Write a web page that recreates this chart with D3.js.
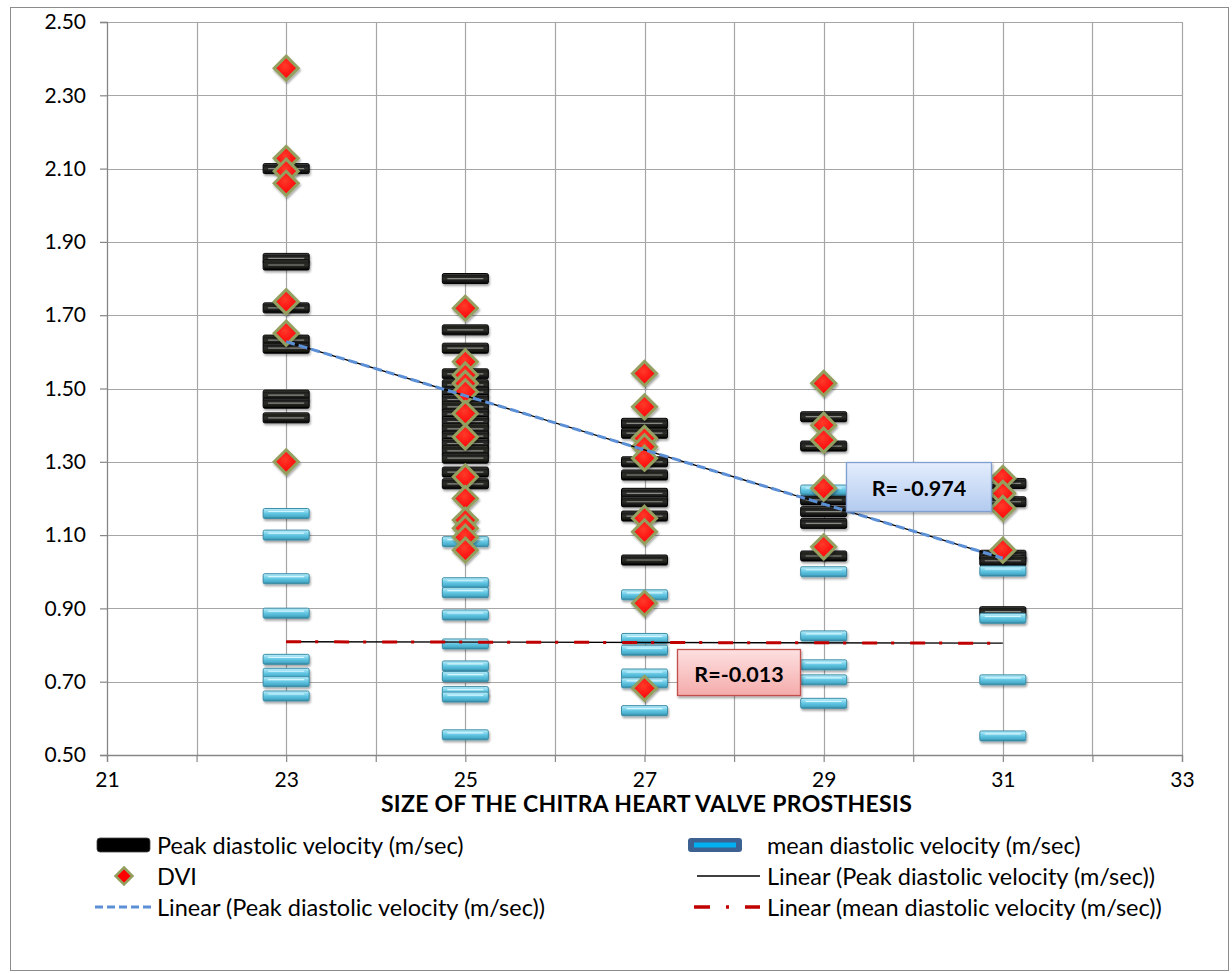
<!DOCTYPE html>
<html>
<head>
<meta charset="utf-8">
<script src="https://cdn.jsdelivr.net/npm/d3@7/dist/d3.min.js"></script>
<style>
  html, body { margin: 0; padding: 0; background: #fff; }
  svg { display: block; font-family: "Lato", "Open Sans", sans-serif; }
</style>
</head>
<body>
<svg id="chart" width="1232" height="973"></svg>
<script>
// ---------- DATA ----------
const sizes = [23, 25, 27, 29, 31];
const xTicks = [21, 23, 25, 27, 29, 31, 33];
const yTicks = [0.5, 0.7, 0.9, 1.1, 1.3, 1.5, 1.7, 1.9, 2.1, 2.3, 2.5];

// Peak diastolic velocity (m/sec) per valve size
const peak23 = [2.10, 1.855, 1.837, 1.72, 1.632, 1.61, 1.482, 1.46, 1.42];
const peak25 = [1.80, 1.66, 1.61, 1.54, 1.51, 1.49, 1.47, 1.45, 1.43, 1.41, 1.39, 1.37, 1.35, 1.33, 1.31, 1.272, 1.24];
const peak27 = [1.405, 1.378, 1.30, 1.264, 1.214, 1.191, 1.152, 1.032];
const peak29 = [1.423, 1.343, 1.196, 1.164, 1.132, 1.043];
const peak31 = [1.241, 1.191, 1.045, 1.03, 0.891];

// mean diastolic velocity (m/sec) per valve size
const mean23 = [1.159, 1.10, 0.981, 0.887, 0.761, 0.723, 0.70, 0.661];
const mean25 = [1.082, 0.97, 0.943, 0.882, 0.803, 0.743, 0.714, 0.673, 0.658, 0.555];
const mean27 = [0.937, 0.818, 0.786, 0.721, 0.697, 0.621];
const mean29 = [1.223, 1.00, 0.825, 0.746, 0.705, 0.641];
const mean31 = [1.002, 0.873, 0.705, 0.552];

// DVI per valve size
const dvi23 = [2.374, 2.128, 2.093, 2.06, 1.737, 1.651, 1.30];
const dvi25 = [1.719, 1.573, 1.537, 1.514, 1.491, 1.432, 1.368, 1.259, 1.20, 1.141, 1.119, 1.094, 1.059];
const dvi27 = [1.541, 1.45, 1.364, 1.341, 1.31, 1.146, 1.109, 0.914, 0.682];
const dvi29 = [1.514, 1.40, 1.359, 1.228, 1.068];
const dvi31 = [1.255, 1.214, 1.173, 1.059];

// Linear trendlines (start / end)
const trendPeakX = [23, 31];
const trendPeakY = [1.628, 1.037];
const trendMeanX = [23, 31];
const trendMeanY = [0.809, 0.805];

const rLabels = ["R= -0.974", "R=-0.013"];
const xTitle = "SIZE OF THE CHITRA HEART VALVE PROSTHESIS";
const legendNames = [
  "Peak diastolic velocity (m/sec)",
  "mean diastolic velocity (m/sec)",
  "DVI",
  "Linear (Peak diastolic velocity (m/sec))",
  "Linear (Peak diastolic velocity (m/sec))",
  "Linear (mean diastolic velocity (m/sec))"
];

// ---------- BUILD POINT TABLES ----------
const peakSets = [peak23, peak25, peak27, peak29, peak31];
const meanSets = [mean23, mean25, mean27, mean29, mean31];
const dviSets = [dvi23, dvi25, dvi27, dvi29, dvi31];
const toPoints = sets => sets.flatMap((arr, i) => arr.map(v => ({x: sizes[i], y: v})));
const peakPts = toPoints(peakSets);
const meanPts = toPoints(meanSets);
const dviPts = toPoints(dviSets);

// ---------- LAYOUT ----------
const svg = d3.select("#chart");
const L = 107, R = 1182, T = 22, B = 755;
const x = d3.scaleLinear().domain([21, 33]).range([L, R]);
const y = d3.scaleLinear().domain([0.5, 2.5]).range([B, T]);

const defs = svg.append("defs");
const gB = defs.append("linearGradient").attr("id", "gBlack").attr("x1", 0).attr("y1", 0).attr("x2", 0).attr("y2", 1);
[[0, "#5a5a55"], [0.18, "#1c1c1a"], [0.5, "#2e2e2a"], [0.82, "#141412"], [1, "#000"]].forEach(s =>
  gB.append("stop").attr("offset", s[0]).attr("stop-color", s[1]));
const gC = defs.append("linearGradient").attr("id", "gCyan").attr("x1", 0).attr("y1", 0).attr("x2", 0).attr("y2", 1);
[[0, "#bdeefa"], [0.3, "#86d8ee"], [0.55, "#5cc2df"], [0.8, "#4aaecb"], [1, "#2f7f99"]].forEach(s =>
  gC.append("stop").attr("offset", s[0]).attr("stop-color", s[1]));
const gD = defs.append("radialGradient").attr("id", "gDia").attr("cx", 0.45).attr("cy", 0.4).attr("r", 0.65);
[[0, "#ff3a2a"], [0.7, "#ff0d0d"], [1, "#d80000"]].forEach(s =>
  gD.append("stop").attr("offset", s[0]).attr("stop-color", s[1]));
const gBlue = defs.append("linearGradient").attr("id", "gBox1").attr("x1", 0).attr("y1", 0).attr("x2", 0).attr("y2", 1);
[[0, "#e3edfc"], [1, "#b3cbf0"]].forEach(s => gBlue.append("stop").attr("offset", s[0]).attr("stop-color", s[1]));
const gPink = defs.append("linearGradient").attr("id", "gBox2").attr("x1", 0).attr("y1", 0).attr("x2", 0).attr("y2", 1);
[[0, "#fde0e0"], [1, "#f5abab"]].forEach(s => gPink.append("stop").attr("offset", s[0]).attr("stop-color", s[1]));
const f = defs.append("filter").attr("id", "shadow").attr("x", "-20%").attr("y", "-40%").attr("width", "140%").attr("height", "200%");
f.append("feDropShadow").attr("dx", 1).attr("dy", 2).attr("stdDeviation", 1.2).attr("flood-color", "#000").attr("flood-opacity", 0.35);

// outer border
svg.append("rect").attr("x", 10.5).attr("y", 7.5).attr("width", 1218).attr("height", 963)
  .attr("fill", "#fff").attr("stroke", "#8c8c8c").attr("stroke-width", 1);

// gridlines
const grid = svg.append("g");
grid.selectAll("line.h").data(yTicks).join("line")
  .attr("x1", L).attr("x2", R).attr("y1", d => Math.round(y(d)) + 0.5).attr("y2", d => Math.round(y(d)) + 0.5)
  .attr("stroke", "#a6a6a6").attr("stroke-width", 1.2);
grid.selectAll("line.v").data(d3.range(22, 34)).join("line")
  .attr("y1", T).attr("y2", B).attr("x1", d => Math.round(x(d)) + 0.5).attr("x2", d => Math.round(x(d)) + 0.5)
  .attr("stroke", "#a6a6a6").attr("stroke-width", 1.2);

// axes
const yAxis = d3.axisLeft(y).tickValues(yTicks).tickFormat(d3.format(".2f")).tickSize(7).tickPadding(14);
const gy = svg.append("g").attr("transform", `translate(${L},0)`).call(yAxis);
const xAxis = d3.axisBottom(x).tickValues(d3.range(21, 34)).tickFormat(d => xTicks.includes(d) ? d : "").tickSize(7).tickPadding(10);
const gx = svg.append("g").attr("transform", `translate(0,${B})`).call(xAxis);
[gx, gy].forEach(g => {
  g.select(".domain").attr("stroke", "#868686").attr("stroke-width", 1.3);
  g.selectAll(".tick line").attr("stroke", "#868686").attr("stroke-width", 1.2);
  g.selectAll(".tick text").attr("fill", "#000").style("font-size", "21px").style("font-family", "Lato, sans-serif");
});

// x-axis title
svg.append("text").attr("x", (L + R) / 2 + 2).attr("y", 812).attr("text-anchor", "middle")
  .style("font-size", "23px").style("font-weight", "bold").style("letter-spacing", "0.3px")
  .attr("fill", "#000").text(xTitle);

// ---------- MARKERS ----------
const BW = 46, BH = 10;
function drawBar(g, d, kind) {
  const cx = x(d.x), cy = y(d.y);
  const grp = g.append("g").attr("filter", "url(#shadow)");
  if (kind === "black") {
    grp.append("rect").attr("x", cx - BW / 2).attr("y", cy - BH / 2).attr("width", BW).attr("height", BH)
      .attr("rx", 1.5).attr("fill", "url(#gBlack)").attr("stroke", "#050505").attr("stroke-width", 1);
    grp.append("line").attr("x1", cx - BW / 2 + 5).attr("x2", cx + BW / 2 - 5).attr("y1", cy).attr("y2", cy)
      .attr("stroke", "#8a8a84").attr("stroke-width", 1.2);
  } else {
    grp.append("rect").attr("x", cx - BW / 2).attr("y", cy - BH / 2).attr("width", BW).attr("height", BH)
      .attr("rx", 1.5).attr("fill", "url(#gCyan)").attr("stroke", "#3d8ea8").attr("stroke-width", 1);
    grp.append("line").attr("x1", cx - BW / 2 + 5).attr("x2", cx + BW / 2 - 5).attr("y1", cy - 2).attr("y2", cy - 2)
      .attr("stroke", "#d6f6ff").attr("stroke-width", 1.2);
  }
}
const gPeak = svg.append("g");
peakPts.forEach(d => drawBar(gPeak, d, "black"));
const gMean = svg.append("g");
meanPts.forEach(d => drawBar(gMean, d, "cyan"));

const dia = (r) => `M0,${-r}L${r},0L0,${r}L${-r},0Z`;
svg.append("g").selectAll("path").data(dviPts).join("path")
  .attr("transform", d => `translate(${x(d.x)},${y(d.y)})`)
  .attr("d", dia(12)).attr("fill", "url(#gDia)").attr("stroke", "#93a060").attr("stroke-width", 3)
  .attr("stroke-linejoin", "miter").attr("filter", "url(#shadow)");

// ---------- TRENDLINES ----------
const line = d3.line().x(d => x(d[0])).y(d => y(d[1]));
const peakTrend = trendPeakX.map((v, i) => [v, trendPeakY[i]]);
const meanTrend = trendMeanX.map((v, i) => [v, trendMeanY[i]]);
svg.append("path").attr("d", line(peakTrend)).attr("stroke", "#000").attr("stroke-width", 1.3).attr("fill", "none");
svg.append("path").attr("d", line(peakTrend)).attr("stroke", "#5b8fd6").attr("stroke-width", 3)
  .attr("stroke-dasharray", "9,4").attr("fill", "none");
svg.append("path").attr("d", line(meanTrend)).attr("stroke", "#000").attr("stroke-width", 1.3).attr("fill", "none");
svg.append("path").attr("d", line(meanTrend)).attr("stroke", "#c00000").attr("stroke-width", 3)
  .attr("stroke-dasharray", "15,14,3,16").attr("fill", "none");

// ---------- R LABEL BOXES ----------
function rBox(x0, y0, w, h, fill, stroke, txt) {
  svg.append("rect").attr("x", x0).attr("y", y0).attr("width", w).attr("height", h)
    .attr("fill", fill).attr("stroke", stroke).attr("stroke-width", 1.3).attr("filter", "url(#shadow)");
  svg.append("text").attr("x", x0 + w / 2).attr("y", y0 + h / 2 + 1).attr("text-anchor", "middle")
    .attr("dominant-baseline", "central").style("font-size", "21.5px").style("font-weight", "bold").attr("fill", "#000").text(txt);
}
rBox(846.5, 462.5, 145, 49, "url(#gBox1)", "#7f9fd0", rLabels[0]);
rBox(677.5, 649.5, 123, 46, "url(#gBox2)", "#c0504d", rLabels[1]);

// ---------- LEGEND ----------
const lg = svg.append("g").style("font-size", "23.5px").attr("fill", "#000");
const rows = [845, 876, 907];
const leftTextX = 157, rightTextX = 767;
lg.append("rect").attr("x", 97).attr("y", rows[0] - 7).attr("width", 53).attr("height", 14).attr("rx", 3)
  .attr("fill", "#000").attr("stroke", "#444").attr("stroke-width", 0.8);
lg.append("text").attr("x", leftTextX).attr("y", rows[0]).attr("dominant-baseline", "central").text(legendNames[0]);
lg.append("rect").attr("x", 688).attr("y", rows[0] - 7).attr("width", 54).attr("height", 14).attr("rx", 3)
  .attr("fill", "#3d6190");
lg.append("rect").attr("x", 694).attr("y", rows[0] - 2.5).attr("width", 42).attr("height", 5).attr("fill", "#00b0f0");
lg.append("text").attr("x", rightTextX).attr("y", rows[0]).attr("dominant-baseline", "central").text(legendNames[1]);
lg.append("path").attr("transform", `translate(124,${rows[1]})`).attr("d", dia(8.5))
  .attr("fill", "#ff0000").attr("stroke", "#93a060").attr("stroke-width", 2.5);
lg.append("text").attr("x", leftTextX).attr("y", rows[1]).attr("dominant-baseline", "central").text(legendNames[2]);
lg.append("line").attr("x1", 697).attr("x2", 760).attr("y1", rows[1]).attr("y2", rows[1]).attr("stroke", "#000").attr("stroke-width", 1.5);
lg.append("text").attr("x", rightTextX).attr("y", rows[1]).attr("dominant-baseline", "central").text(legendNames[3]);
lg.append("line").attr("x1", 95).attr("x2", 154).attr("y1", rows[2]).attr("y2", rows[2]).attr("stroke", "#5b8fd6")
  .attr("stroke-width", 3).attr("stroke-dasharray", "8,4");
lg.append("text").attr("x", leftTextX).attr("y", rows[2]).attr("dominant-baseline", "central").text(legendNames[4]);
lg.append("line").attr("x1", 694).attr("x2", 760).attr("y1", rows[2]).attr("y2", rows[2]).attr("stroke", "#c00000")
  .attr("stroke-width", 3.5).attr("stroke-dasharray", "16,16,3,16");
lg.append("text").attr("x", rightTextX).attr("y", rows[2]).attr("dominant-baseline", "central").text(legendNames[5]);
</script>
</body>
</html>
